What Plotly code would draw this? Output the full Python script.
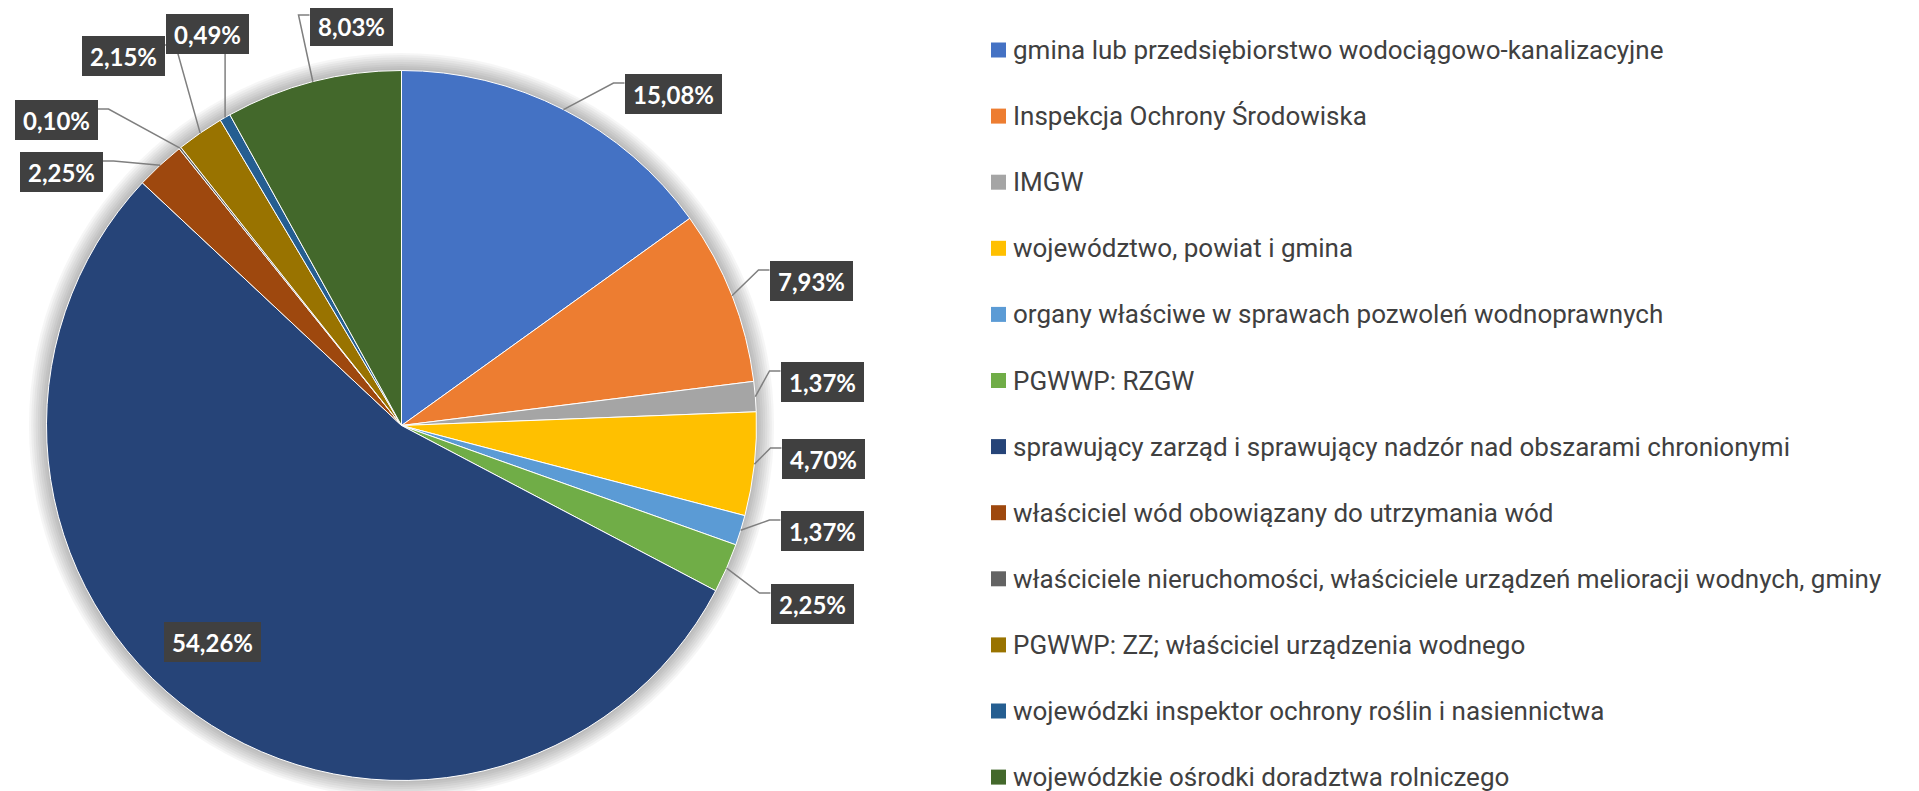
import math
import plotly.graph_objects as go

labels = [
    "gmina lub przedsiębiorstwo wodociągowo-kanalizacyjne",
    "Inspekcja Ochrony Środowiska",
    "IMGW",
    "województwo, powiat i gmina",
    "organy właściwe w sprawach pozwoleń wodnoprawnych",
    "PGWWP: RZGW",
    "sprawujący zarząd i sprawujący nadzór nad obszarami chronionymi",
    "właściciel wód obowiązany do utrzymania wód",
    "właściciele nieruchomości, właściciele urządzeń melioracji wodnych, gminy",
    "PGWWP: ZZ; właściciel urządzenia wodnego",
    "wojewódzki inspektor ochrony roślin i nasiennictwa",
    "wojewódzkie ośrodki doradztwa rolniczego",
]
values = [15.08, 7.93, 1.37, 4.70, 1.37, 2.25, 54.26, 2.25, 0.10, 2.15, 0.49, 8.03]
colors = ["#4472C4", "#ED7D31", "#A5A5A5", "#FFC000", "#5B9BD5", "#70AD47",
          "#264478", "#9E480E", "#636363", "#997300", "#255E91", "#43682B"]

# where the dark label boxes sit (screen pixels, box centres)
box_pos = [(673, 94), (811, 281), (822, 382), (823, 459), (822, 531), (812, 604),
           (212, 642), (61, 172), (56, 120), (123, 56), (207, 34), (351, 26)]

W, H = 1919, 791
OFF = 8  # page body margin
cx, cy, R = 401.5, 425.5, 355


def px(x):
    return (x - OFF) / W


def py(y):
    return 1 - (y - OFF) / H


fig = go.Figure(go.Pie(
    labels=labels, values=values, sort=False, direction="clockwise", rotation=0,
    marker=dict(colors=colors, line=dict(color="white", width=1)),
    textinfo="none", showlegend=False, hoverinfo="label+percent",
    domain=dict(x=[px(cx - R), px(cx + R)], y=[py(cy + R), py(cy - R)]),
))

# soft shadow round the pie
shapes = []
for k in range(1, 9):
    rr = R + k * 2.2
    shapes.append(dict(type="circle", xref="paper", yref="paper", layer="below",
                       x0=px(cx - rr), x1=px(cx + rr), y0=py(cy + rr), y1=py(cy - rr),
                       fillcolor="rgba(0,0,0,0.035)", line=dict(width=0)))

annotations = []
total = sum(values)
cum = 0
for v, (bx, by) in zip(values, box_pos):
    th = 2 * math.pi * (cum + v / 2) / total
    cum += v
    tx = cx + R * math.sin(th)
    ty = cy - R * math.cos(th)
    txt = f"{v:.2f}%".replace(".", ",")
    bw, bh = (97 if len(txt) > 5 else 83), 40
    if v < 50:
        # elbow leader line from slice edge to the box
        if abs(tx - bx) < bw / 4:
            path = f"M{px(tx)},{py(ty)} L{px(tx)},{py(by + bh / 2)}"
        else:
            right = tx > bx
            edge = bx + bw / 2 if right else bx - bw / 2
            ey = by - 11
            ex = edge + (11 if right else -11)
            path = f"M{px(tx)},{py(ty)} L{px(ex)},{py(ey)} L{px(edge)},{py(ey)}"
        shapes.append(dict(type="path", xref="paper", yref="paper", path=path,
                           line=dict(color="#7f7f7f", width=1.5)))
    annotations.append(dict(
        x=px(bx), y=py(by), xref="paper", yref="paper",
        xanchor="center", yanchor="middle",
        text=f"<b>{txt}</b>", showarrow=False,
        bgcolor="#404040", borderpad=0, borderwidth=0, width=bw, height=bh,
        font=dict(family="Lato", size=24, color="white"),
    ))

# legend on the right
for i, (lab, col) in enumerate(zip(labels, colors)):
    yc = 50 + 66.1 * i
    shapes.append(dict(type="rect", xref="paper", yref="paper",
                       x0=px(991), x1=px(1006), y0=py(yc + 7.5), y1=py(yc - 7.5),
                       fillcolor=col, line=dict(width=0)))
    annotations.append(dict(x=px(1011), y=py(yc), xref="paper", yref="paper",
                            text=lab, showarrow=False, xanchor="left", yanchor="middle",
                            font=dict(family="Roboto", size=26, color="#404040")))

fig.update_layout(
    width=W, height=H, margin=dict(l=0, r=0, t=0, b=0),
    paper_bgcolor="white", plot_bgcolor="white",
    shapes=shapes, annotations=annotations,
)

fig.write_html("out.html")
